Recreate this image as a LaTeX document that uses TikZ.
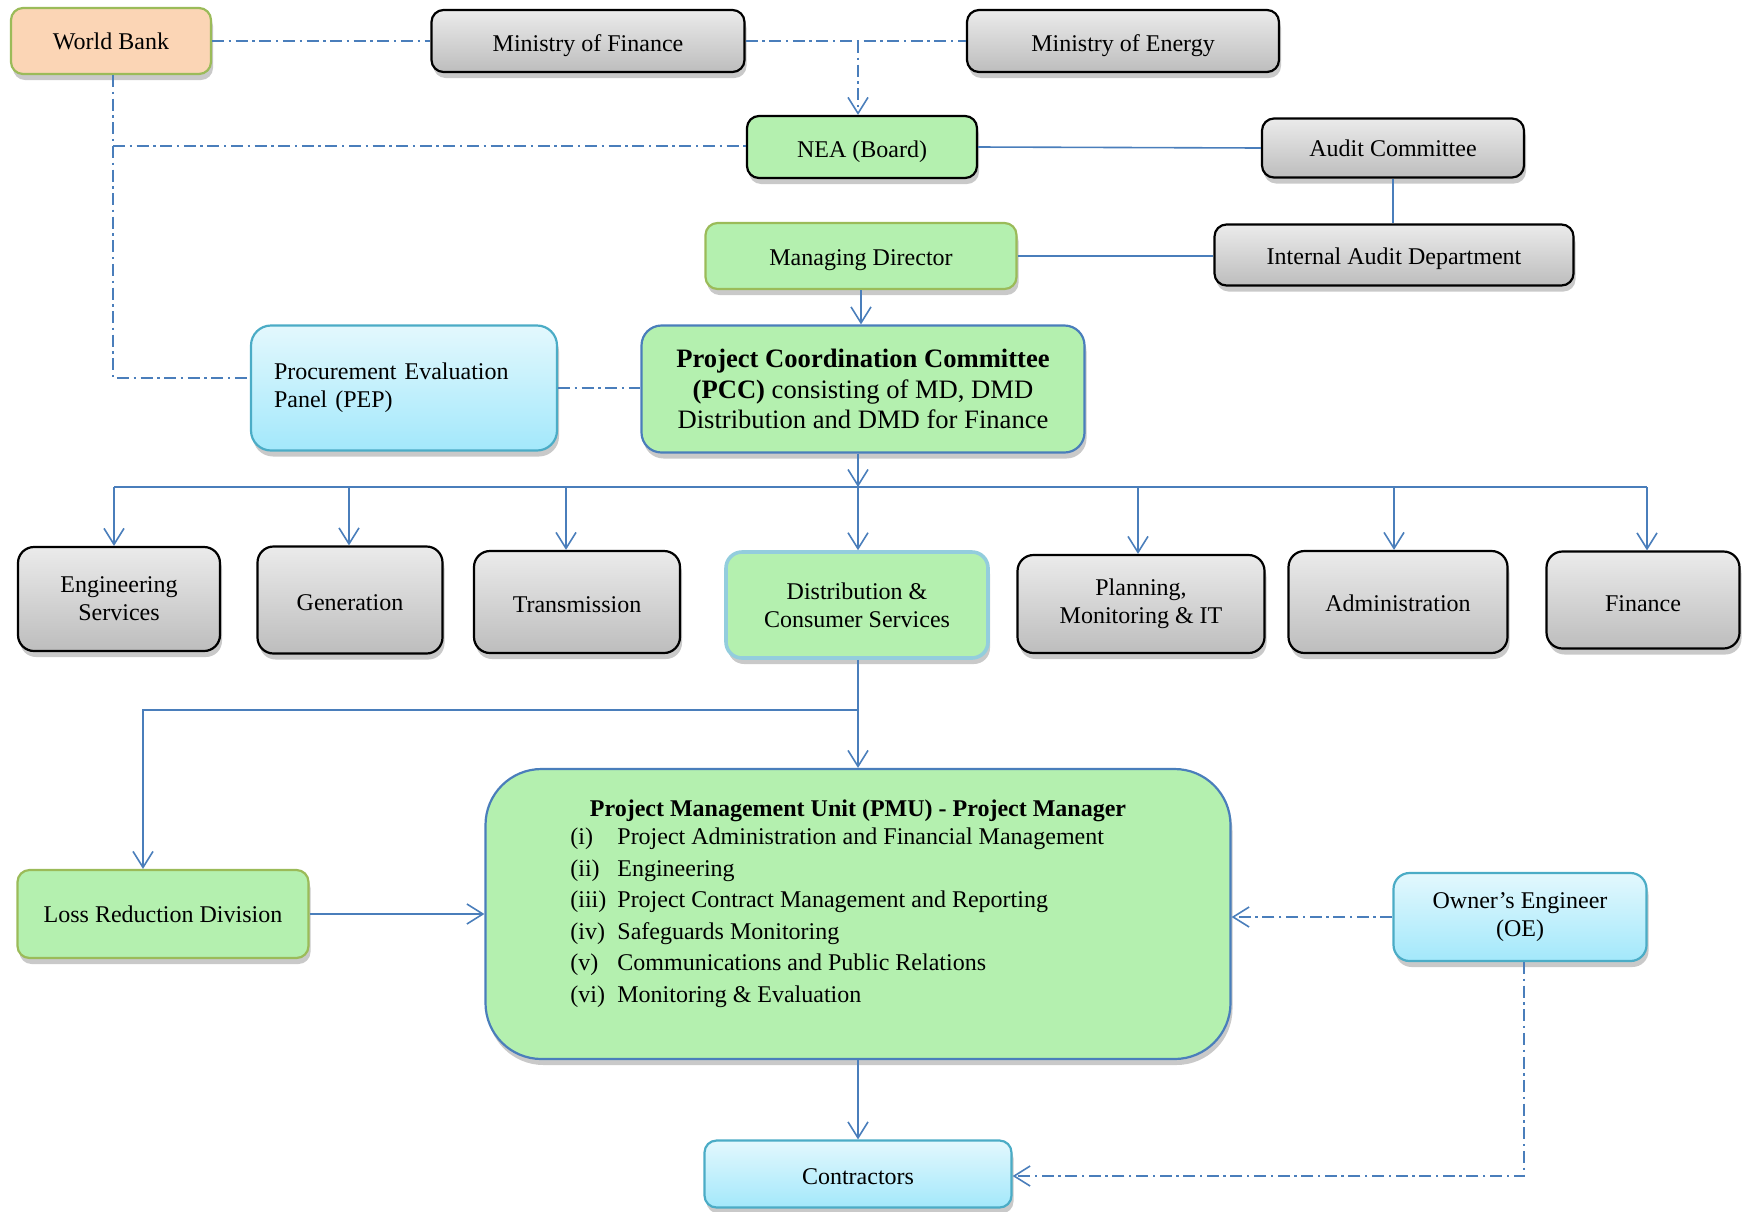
\documentclass[tikz,border=0pt]{standalone}
\usepackage{fontspec}
\setmainfont{Liberation Serif}
\usetikzlibrary{arrows.meta,shadows}
\definecolor{lnblue}{HTML}{4A7EBB}
\definecolor{grayT}{HTML}{EBEBEB}
\definecolor{grayB}{HTML}{BDBDBD}
\definecolor{nodegreen}{HTML}{B4F0AF}
\definecolor{peach}{HTML}{FBD5B5}
\definecolor{olive}{HTML}{9BBB59}
\definecolor{cyanT}{HTML}{E3F8FD}
\definecolor{cyanBot}{HTML}{A3E8FB}
\definecolor{cyanB}{HTML}{4BACC6}
\definecolor{distB}{HTML}{93CDDD}
\tikzset{
 nbox/.style={rounded corners=6pt, draw, line width=1.1pt, align=center, inner sep=2pt,
   font=\fontsize{12}{14}\selectfont,
   drop shadow={shadow xshift=1pt, shadow yshift=-3pt, opacity=0.3, fill=black!70}},
 graybox/.style={nbox, draw=black, top color=grayT, bottom color=grayB},
 greenbox/.style={nbox, fill=nodegreen},
 cyanbox/.style={nbox, draw=cyanB, top color=cyanT, bottom color=cyanBot},
 tshift/.style={text height=#1, text depth=0pt},
 conn/.style={draw=lnblue, line width=0.8pt},
 arr/.style={conn, -{Straight Barb[length=8pt,width=10pt]}},
 dd/.style={conn, dash pattern=on 6pt off 2.3pt on 1.2pt off 2.3pt},
 ddarr/.style={dd, -{Straight Barb[length=8pt,width=10pt]}},
 pmutext/.style={anchor=base west, inner sep=0pt, font=\fontsize{12}{14}\selectfont},
}
\begin{document}
\begin{tikzpicture}[x=0.5pt,y=-0.5pt]
\useasboundingbox (0,0) rectangle (1748,1211);
% top row
\node[nbox, draw=olive, fill=peach, minimum width=100pt, minimum height=33pt] (wb) at (111,41) {World Bank};
\node[graybox, tshift=10pt, minimum width=156.5pt, minimum height=31pt] (mof) at (588,41) {Ministry of Finance};
\node[graybox, tshift=10pt, minimum width=156pt, minimum height=31pt] (moe) at (1123,41) {Ministry of Energy};
\node[greenbox, tshift=10.6pt, draw=black, minimum width=115pt, minimum height=31pt] (nea) at (862,147) {NEA (Board)};
\node[graybox, minimum width=131pt, minimum height=29.5pt] (ac) at (1393,148) {Audit Committee};
\node[graybox, tshift=9pt, minimum width=179.5pt, minimum height=30.5pt] (iad) at (1394,255) {Internal Audit Department};
\node[greenbox, tshift=9pt, draw=olive, minimum width=155.5pt, minimum height=33pt] (md) at (861,256) {Managing Director};
\node[cyanbox, rounded corners=10pt, minimum width=153pt, minimum height=62.5pt, text width=130pt, align=left] (pep) at (404,388) {Procurement Evaluation\\Panel (PEP)};
\node[greenbox, draw=lnblue, rounded corners=10pt, minimum width=221.5pt, minimum height=63.5pt, font=\fontsize{13.3}{15.3}\selectfont] (pcc) at (863,389) {\textbf{Project Coordination Committee}\\\textbf{(PCC)} consisting of MD, DMD\\Distribution and DMD for Finance};
% departments
\node[graybox, rounded corners=8pt, minimum width=101pt, minimum height=52pt] (es) at (119,599) {Engineering\\Services};
\node[graybox, tshift=10.4pt, rounded corners=8pt, minimum width=92.5pt, minimum height=53.5pt] (gen) at (350,600) {Generation};
\node[graybox, tshift=10.4pt, rounded corners=8pt, minimum width=103pt, minimum height=51pt] (tr) at (577,602) {Transmission};
\node[greenbox, draw=distB, line width=1.8pt, rounded corners=8pt, minimum width=131pt, minimum height=53pt] (dist) at (857,605) {Distribution \&\\Consumer Services};
\node[graybox, rounded corners=8pt, minimum width=123.5pt, minimum height=49pt] (plan) at (1141,604) {Planning,\\Monitoring \& IT};
\node[graybox, tshift=9.3pt, rounded corners=8pt, minimum width=109.5pt, minimum height=51pt] (adm) at (1398,602) {Administration};
\node[graybox, tshift=11.4pt, rounded corners=8pt, minimum width=96.5pt, minimum height=48.5pt] (fin) at (1643,600) {Finance};
% bottom
\node[greenbox, draw=lnblue, rounded corners=28pt, minimum width=372.5pt, minimum height=145pt] (pmu) at (858,914) {};
\node[greenbox, draw=olive, minimum width=145.5pt, minimum height=44pt] (lrd) at (163,914) {Loss Reduction Division};
\node[cyanbox, rounded corners=8pt, minimum width=126.5pt, minimum height=44pt] (oe) at (1520,917) {Owner’s Engineer\\(OE)};
\node[cyanbox, tshift=10.4pt, minimum width=153.5pt, minimum height=33.5pt] (con) at (858,1174) {Contractors};
% PMU text
\node[anchor=base, inner sep=0pt, font=\fontsize{12}{14}\selectfont\bfseries] (pmut) at (858,816) {Project Management Unit (PMU) - Project Manager};
\node[pmutext] (l1) at (570,844) {(i)};
\node[pmutext] (t1) at (617,844) {Project Administration and Financial Management};
\node[pmutext] (l2) at (570,876) {(ii)};
\node[pmutext] (t2) at (617,876) {Engineering};
\node[pmutext] (l3) at (570,907) {(iii)};
\node[pmutext] (t3) at (617,907) {Project Contract Management and Reporting};
\node[pmutext] (l4) at (570,939) {(iv)};
\node[pmutext] (t4) at (617,939) {Safeguards Monitoring};
\node[pmutext] (l5) at (570,970) {(v)};
\node[pmutext] (t5) at (617,970) {Communications and Public Relations};
\node[pmutext] (l6) at (570,1002) {(vi)};
\node[pmutext] (t6) at (617,1002) {Monitoring \& Evaluation};
% coordinates
\coordinate (j1) at (858,41);
\coordinate (wbv) at (113,378);
\coordinate (wbn) at (113,146);
\coordinate (bus0) at (858,487);
\coordinate (bl) at (114,487);
\coordinate (br) at (1647,487);
\coordinate (b2) at (349,487);
\coordinate (b3) at (566,487);
\coordinate (b5) at (1138,487);
\coordinate (b6) at (1394,487);
\coordinate (dj) at (858,710);
\coordinate (lj) at (143,710);
\coordinate (oj) at (1524,1176);
% dash-dot connectors
\draw[dd] (wb.east) -- (mof.west);
\draw[dd] (mof.east) -- (moe.west);
\draw[ddarr] (j1) -- (j1 |- nea.north);
\draw[dd] (wbv |- wb.south) -- (wbv) -- (wbv -| pep.west);
\draw[dd] (wbn) -- (wbn -| nea.west);
\draw[dd] (pep.east) -- (pep.east -| pcc.west);
\draw[ddarr] (oe.west) -- (oe.west -| pmu.east);
\draw[ddarr] (oj |- oe.south) -- (oj) -- (oj -| con.east);
% solid connectors
\draw[conn] (nea.east) -- (ac.west);
\draw[conn] (ac.south) -- (ac.south |- iad.north);
\draw[conn] (md.east) -- (md.east -| iad.west);
\draw[arr] (md.south) -- (md.south |- pcc.north);
\draw[arr] (bus0 |- pcc.south) -- (bus0);
\draw[conn] (bl) -- (br);
\draw[arr] (bl) -- (bl |- es.north);
\draw[arr] (b2) -- (b2 |- gen.north);
\draw[arr] (b3) -- (b3 |- tr.north);
\draw[arr] (bus0) -- (bus0 |- dist.north);
\draw[arr] (b5) -- (b5 |- plan.north);
\draw[arr] (b6) -- (b6 |- adm.north);
\draw[arr] (br) -- (br |- fin.north);
\draw[arr] (dj |- dist.south) -- (dj |- pmu.north);
\draw[arr] (dj) -- (lj) -- (lj |- lrd.north);
\draw[arr] (lrd.east) -- (lrd.east -| pmu.west);
\draw[arr] (pmu.south) -- (pmu.south |- con.north);
\end{tikzpicture}
\end{document}
